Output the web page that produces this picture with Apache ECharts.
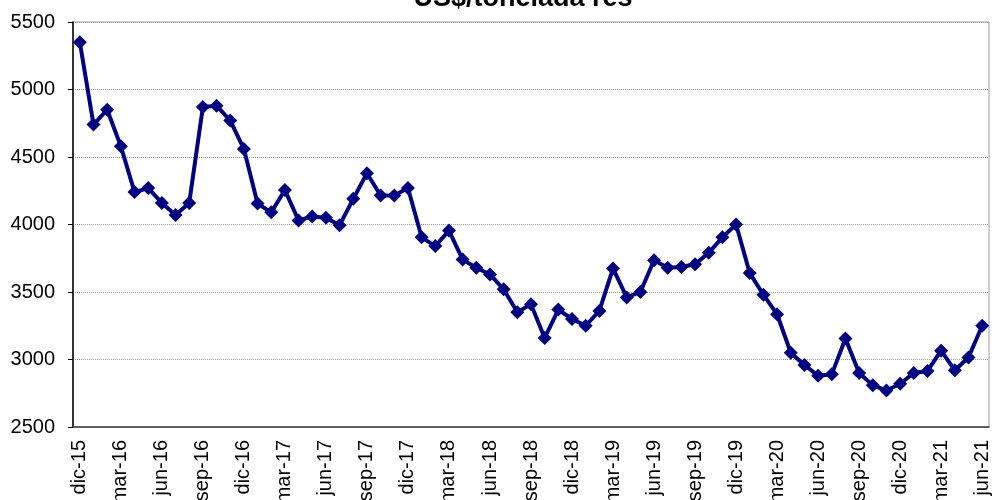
<!DOCTYPE html>
<html>
<head>
<meta charset="utf-8">
<script src="https://cdn.jsdelivr.net/npm/echarts@6/dist/echarts.min.js"></script>
<style>
  html, body { margin: 0; padding: 0; background: #fff; }
  #main-chart { width: 994px; height: 500px; }
</style>
</head>
<body>
<div id="main-chart"></div>
<script>
var titleText = 'US$/tonelada res';

var months = [
  'dic-15',
  'ene-16','feb-16','mar-16','abr-16','may-16','jun-16','jul-16','ago-16','sep-16','oct-16','nov-16','dic-16',
  'ene-17','feb-17','mar-17','abr-17','may-17','jun-17','jul-17','ago-17','sep-17','oct-17','nov-17','dic-17',
  'ene-18','feb-18','mar-18','abr-18','may-18','jun-18','jul-18','ago-18','sep-18','oct-18','nov-18','dic-18',
  'ene-19','feb-19','mar-19','abr-19','may-19','jun-19','jul-19','ago-19','sep-19','oct-19','nov-19','dic-19',
  'ene-20','feb-20','mar-20','abr-20','may-20','jun-20','jul-20','ago-20','sep-20','oct-20','nov-20','dic-20',
  'ene-21','feb-21','mar-21','abr-21','may-21','jun-21'
];

var precios = [
  5350,
  4740, 4850, 4580, 4240, 4270, 4160, 4070, 4160, 4870, 4880, 4770, 4560,
  4155, 4090, 4255, 4030, 4060, 4050, 3995, 4190, 4380, 4215, 4215, 4270,
  3905, 3840, 3955, 3740, 3680, 3630, 3520, 3350, 3410, 3160, 3370, 3300,
  3250, 3360, 3675, 3460, 3500, 3735, 3680, 3685, 3705, 3790, 3905, 4000,
  3640, 3480, 3335, 3050, 2960, 2880, 2890, 3155, 2900, 2810, 2770, 2820,
  2900, 2915, 3065, 2920, 3015, 3250
];

var yMin = 2500, yMax = 5500, yStep = 500;

var dom = document.getElementById('main-chart');
var myChart = echarts.init(dom);
var option = {
    animation: false,
    title: {
        text: titleText,
        left: 518,
        textAlign: 'center',
        top: -20,
        textStyle: {
            fontFamily: 'Liberation Sans',
            fontSize: 27,
            fontWeight: 'bold',
            color: '#000'
        }
    },
    grid: {
        left: 73,
        right: 5,
        top: 22,
        bottom: 73,
        outerBoundsMode: 'none',
        containLabel: false,
        show: true,
        borderColor: '#999',
        borderWidth: 1
    },
    xAxis: {
        type: 'category',
        boundaryGap: true,
        data: months,
        axisLine: {lineStyle: {color: '#404040', width: 1.5}},
        axisTick: {
            interval: 2,
            inside: true,
            length: 5,
            lineStyle: {color: '#404040'}
        },
        axisLabel: {
            interval: 2,
            rotate: 90,
            margin: 13,
            fontFamily: 'Liberation Sans',
            fontSize: 20,
            color: '#000'
        },
        splitLine: {show: false}
    },
    yAxis: {
        type: 'value',
        min: yMin,
        max: yMax,
        interval: yStep,
        axisLine: {show: true, lineStyle: {color: '#000', width: 1.5}},
        axisTick: {show: true, length: 5, lineStyle: {color: '#000'}},
        axisLabel: {
            margin: 18,
            fontFamily: 'Liberation Sans',
            fontSize: 20,
            color: '#000',
            formatter: function (v) { return String(v); }
        },
        splitLine: {
            show: true,
            lineStyle: {color: '#999', type: 'dotted', width: 1}
        }
    },
    series: [
        {
            name: titleText,
            type: 'line',
            data: precios,
            symbol: 'diamond',
            symbolSize: 14,
            showAllSymbol: true,
            lineStyle: {color: '#000080', width: 4},
            itemStyle: {color: '#000080'}
        }
    ]
};
myChart.setOption(option, true);
</script>
</body>
</html>
